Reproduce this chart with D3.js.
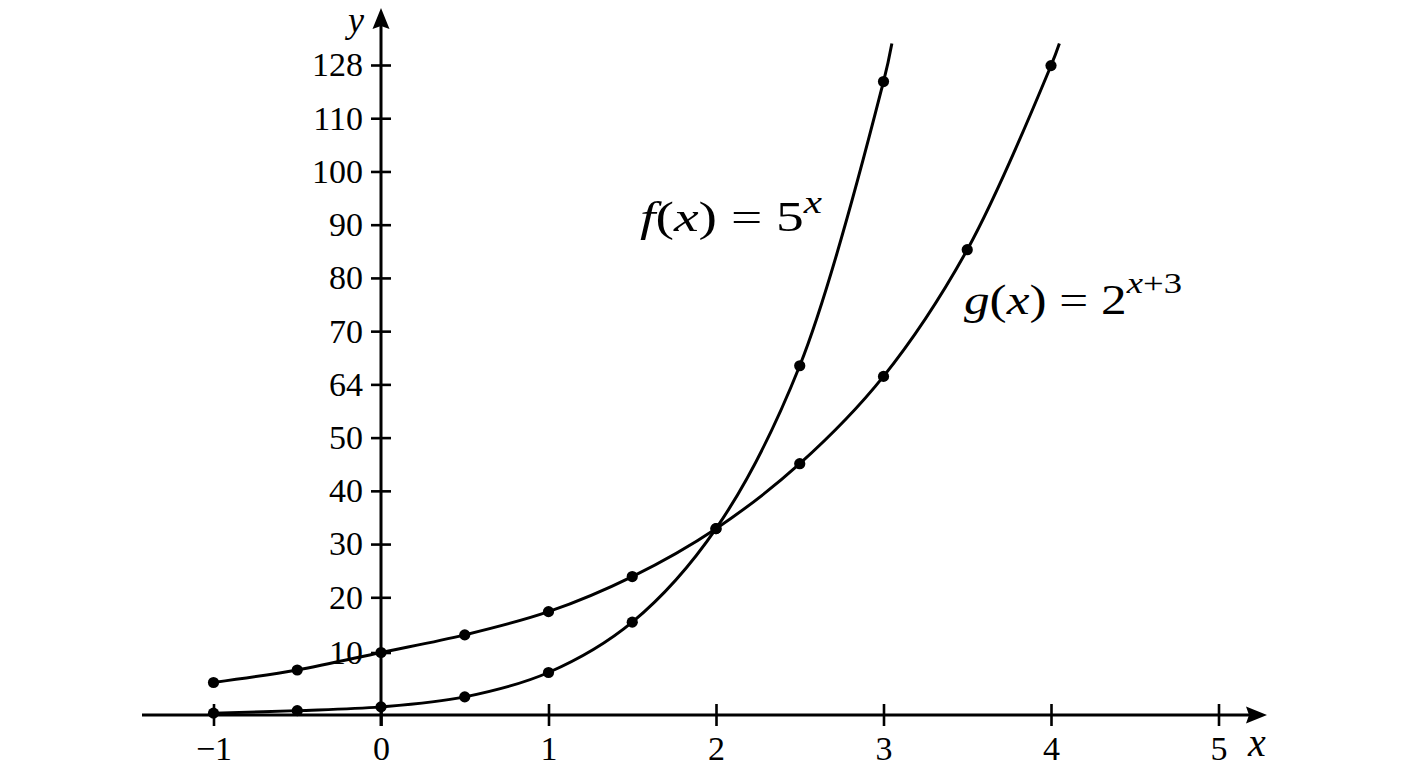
<!DOCTYPE html>
<html>
<head>
<meta charset="utf-8">
<script src="https://cdn.jsdelivr.net/npm/d3@7"></script>
<style>
  body { margin: 0; background: #fff; }
  svg { display: block; }
  text { font-family: "Liberation Serif", "DejaVu Serif", serif; fill: #000; }
</style>
</head>
<body>
<div id="chart"></div>
<script>
// tick labels
var xTicks = [-1, 0, 1, 2, 3, 4, 5];
var yTicks = [10, 20, 30, 40, 50, 64, 70, 80, 90, 100, 110, 128];

// g(x) = 2^(x+3)
var gX = [-1, -0.5, 0, 0.5, 1, 1.5, 2, 2.5, 3, 3.5, 4];
var gY = [5.2, 7.2, 10, 13.2, 17.4, 23.9, 32.9, 45.1, 64.9, 85.3, 127.8];

// f(x) = 5^x
var fX = [-1, -0.5, 0, 0.5, 1, 1.5, 2, 2.5, 3];
var fY = [0.3, 0.7, 1.3, 2.9, 6.8, 15.5, 32.9, 66.1, 122.4];

// where each curve runs off the top
var fEnd = [3.05, 135.3];
var gEnd = [4.05, 135.3];

var width = 1408, height = 768;

var svg = d3.select("#chart").append("svg")
    .attr("width", width)
    .attr("height", height);

var x = d3.scaleLinear().domain([-1, 5]).range([213.5, 1218.5]);

// the axis ticks are evenly spaced even though the labels are not,
// so the y scale is piecewise through the tick labels
var yRange = [715].concat(yTicks.map(function (d, i) {
    return i === 0 ? 652.5 : 597.3 - (i - 1) * 53.23;
}));
var y = d3.scaleLinear().domain([0].concat(yTicks)).range(yRange);

var x0 = x(0), y0 = y(0);

// x axis
var xAxis = svg.append("g")
    .attr("transform", "translate(0," + y0 + ")")
    .call(d3.axisBottom(x).tickValues(xTicks).tickSize(11).tickPadding(10)
        .tickFormat(function (d) { return d < 0 ? "\u2212" + Math.abs(d) : d; }));
xAxis.select(".domain").remove();
xAxis.selectAll(".tick line").attr("y1", -11).attr("stroke-width", 2.6);
xAxis.selectAll(".tick text").attr("font-size", 34).attr("font-family", "Liberation Serif");

// y axis
var yAxis = svg.append("g")
    .attr("transform", "translate(" + x0 + ",0)")
    .call(d3.axisLeft(y).tickValues(yTicks).tickSize(10).tickPadding(8));
yAxis.select(".domain").remove();
yAxis.selectAll(".tick line").attr("x1", 10).attr("stroke-width", 2.6);
yAxis.selectAll(".tick text").attr("font-size", 34).attr("font-family", "Liberation Serif");

// axis lines with arrow heads
svg.append("line")
    .attr("x1", 142).attr("x2", 1250)
    .attr("y1", y0).attr("y2", y0)
    .attr("stroke", "#000").attr("stroke-width", 3);
svg.append("path")
    .attr("d", "M1267," + y0 + "L1246," + (y0 - 8.5) + "L1249," + y0 + "L1246," + (y0 + 8.5) + "Z")
    .attr("fill", "#000");

svg.append("line")
    .attr("x1", x0).attr("x2", x0)
    .attr("y1", y0 + 11).attr("y2", 26)
    .attr("stroke", "#000").attr("stroke-width", 3);
svg.append("path")
    .attr("d", "M" + x0 + ",8L" + (x0 - 8.5) + ",29L" + x0 + ",26L" + (x0 + 8.5) + ",29Z")
    .attr("fill", "#000");

svg.append("text")
    .attr("x", 1257).attr("y", 756)
    .attr("text-anchor", "middle")
    .attr("font-size", 40).attr("font-style", "italic")
    .text("x");
svg.append("text")
    .attr("x", 356).attr("y", 32)
    .attr("text-anchor", "middle")
    .attr("font-size", 36).attr("font-style", "italic")
    .text("y");

// curves
var line = d3.line()
    .x(function (d) { return x(d[0]); })
    .y(function (d) { return y(d[1]); })
    .curve(d3.curveCatmullRom.alpha(0.5));

var fPts = fX.map(function (d, i) { return [d, fY[i]]; });
var gPts = gX.map(function (d, i) { return [d, gY[i]]; });

svg.append("path")
    .datum(fPts.concat([fEnd]))
    .attr("d", line)
    .attr("fill", "none").attr("stroke", "#000").attr("stroke-width", 3);
svg.append("path")
    .datum(gPts.concat([gEnd]))
    .attr("d", line)
    .attr("fill", "none").attr("stroke", "#000").attr("stroke-width", 3);

svg.selectAll(".dot")
    .data(fPts.concat(gPts))
    .enter().append("circle")
    .attr("class", "dot")
    .attr("cx", function (d) { return x(d[0]); })
    .attr("cy", function (d) { return y(d[1]); })
    .attr("r", 5.6)
    .attr("fill", "#000");

// equation labels, set wide like the reference
var fLab = svg.append("text").attr("x", 640).attr("y", 231).attr("font-size", 42)
    .attr("textLength", 182).attr("lengthAdjust", "spacingAndGlyphs");
fLab.append("tspan").attr("font-style", "italic").text("f");
fLab.append("tspan").text("(");
fLab.append("tspan").attr("font-style", "italic").text("x");
fLab.append("tspan").text(") = 5");
fLab.append("tspan").attr("font-style", "italic").attr("font-size", 31).attr("dy", -18).text("x");

var gLab = svg.append("text").attr("x", 964).attr("y", 314).attr("font-size", 42)
    .attr("textLength", 218).attr("lengthAdjust", "spacingAndGlyphs");
gLab.append("tspan").attr("font-style", "italic").text("g");
gLab.append("tspan").text("(");
gLab.append("tspan").attr("font-style", "italic").text("x");
gLab.append("tspan").text(") = 2");
gLab.append("tspan").attr("font-style", "italic").attr("font-size", 30).attr("dy", -21).text("x");
gLab.append("tspan").attr("font-size", 30).text("+3");
</script>
</body>
</html>
